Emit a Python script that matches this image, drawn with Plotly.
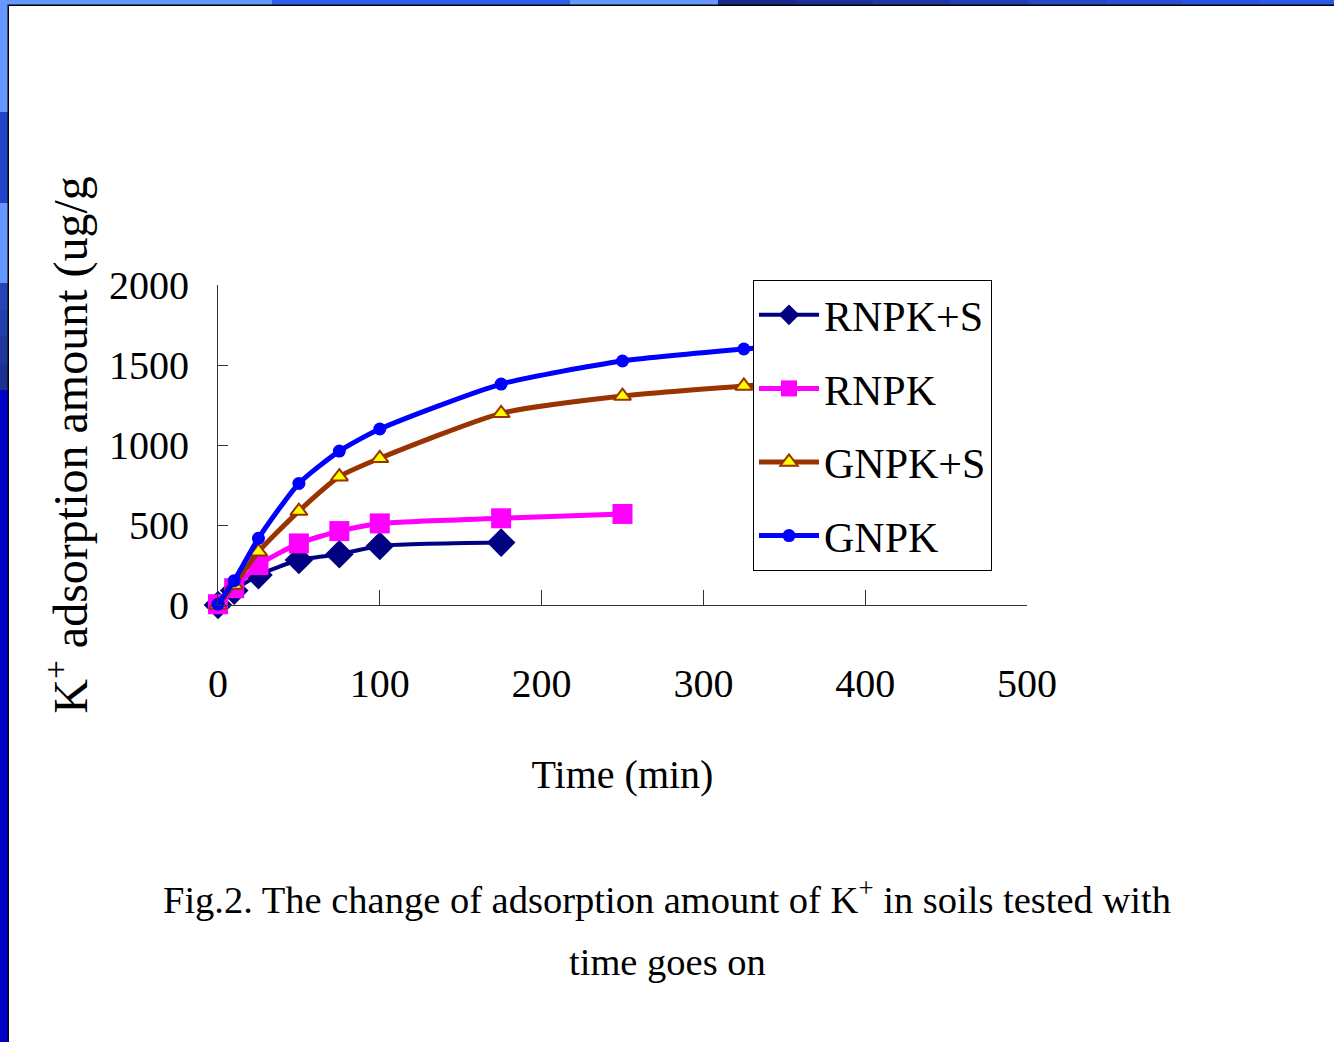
import plotly.graph_objects as go

# ---- data ----
time_rnpk_s = [0, 10, 25, 50, 75, 100, 175]
rnpk_s = [0, 90, 187, 281, 317, 369, 390]

time_rnpk = [0, 10, 25, 50, 75, 100, 175, 250]
rnpk = [5, 105, 250, 385, 462, 510, 542, 569]

time_gnpk_s = [0, 10, 25, 50, 75, 100, 175, 250, 325, 400]
gnpk_s = [0, 125, 333, 587, 802, 917, 1198, 1306, 1369, 1420]

time_gnpk = [0, 10, 25, 50, 75, 100, 175, 250, 325, 400]
gnpk = [5, 152, 417, 760, 962, 1100, 1381, 1525, 1600, 1660]

series_names = ["RNPK+S", "RNPK", "GNPK+S", "GNPK"]
x_ticks = [0, 100, 200, 300, 400, 500]
y_ticks = [0, 500, 1000, 1500, 2000]

FONT = "Liberation Serif, Times New Roman, serif"

# plot-area geometry in pixels
W, H = 1334, 1042
L, R, T, B = 218, 1027, 285, 605
pw, ph = R - L, B - T


def px(xp):
    return (xp - L) / pw


def py(yp):
    return (B - yp) / ph


fig = go.Figure()

styles = [
    dict(color="#000080", width=4, symbol="diamond", msize=22, mfill="#000080", mline="#000080", mlw=0),
    dict(color="#FF00FF", width=5, symbol="square", msize=20, mfill="#FF00FF", mline="#FF00FF", mlw=0),
    dict(color="#993300", width=5, symbol="triangle-up", msize=15, mfill="#FFFF00", mline="#993300", mlw=2),
    dict(color="#0000FF", width=5, symbol="circle", msize=13, mfill="#0000FF", mline="#0000FF", mlw=0),
]
xs = [time_rnpk_s, time_rnpk, time_gnpk_s, time_gnpk]
ys = [rnpk_s, rnpk, gnpk_s, gnpk]

for name, x, y, s in zip(series_names, xs, ys, styles):
    fig.add_trace(go.Scatter(
        x=x, y=y, name=name, mode="lines+markers",
        line=dict(color=s["color"], width=s["width"], shape="spline", smoothing=0.6),
        marker=dict(symbol=s["symbol"], size=s["msize"], color=s["mfill"],
                    line=dict(color=s["mline"], width=s["mlw"])),
        cliponaxis=False,
        legendgroup=name,
    ))

# ---- slide background border ----
shapes = []


def band(x0, x1, y0, y1, color):
    shapes.append(dict(type="rect", xref="paper", yref="paper", layer="below",
                       x0=px(x0), x1=px(x1), y0=py(y1), y1=py(y0),
                       fillcolor=color, line=dict(width=0)))


# white slide body
shapes.append(dict(type="rect", xref="paper", yref="paper", layer="below",
                   x0=px(8), x1=px(W + 5), y0=py(H + 5), y1=py(5),
                   fillcolor="white", line=dict(color="#000000", width=2)))

# top band
band(-2, 272, -2, 4.5, "#6699ff")
band(272, 570, -2, 4.5, "#2f5fe8")
band(570, 718, -2, 4.5, "#6699ff")
top_grad = ["#1a2a8c", "#1c3196", "#1f38a4", "#2240b4", "#2548c4", "#284fd2", "#2a55e0", "#2c5ae8"]
seg = (W + 4 - 718) / len(top_grad)
for i, c in enumerate(top_grad):
    band(718 + i * seg, 718 + (i + 1) * seg + 0.5, -2, 4.5, c)

# left band
band(-2, 7.5, -2, 112, "#6699ff")
band(-2, 7.5, 112, 203, "#2244cc")
band(-2, 7.5, 203, 283, "#6699ff")
left_grad = ["#2446b8", "#2240aa", "#1f389c", "#1c3092"]
seg = (390 - 283) / len(left_grad)
for i, c in enumerate(left_grad):
    band(-2, 7.5, 283 + i * seg, 283 + (i + 1) * seg + 0.5, c)
band(-2, 7.5, 390, H + 2, "#0000cc")

# ---- caption ----
annotations = [
    dict(text="Fig.2. The change of adsorption amount of K<sup>+</sup> in soils tested with",
         xref="paper", yref="paper", x=px(667), y=py(897), xanchor="center", yanchor="middle",
         showarrow=False, font=dict(family=FONT, size=38.5, color="black")),
    dict(text="time goes on",
         xref="paper", yref="paper", x=px(667), y=py(962), xanchor="center", yanchor="middle",
         showarrow=False, font=dict(family=FONT, size=38.5, color="black")),
]

fig.update_layout(
    width=W, height=H,
    margin=dict(l=L, r=W - R, t=T, b=H - B, pad=0),
    paper_bgcolor="#2f56e4",
    plot_bgcolor="rgba(0,0,0,0)",
    font=dict(family=FONT, color="black", size=40),
    shapes=shapes,
    annotations=annotations,
    showlegend=True,
    legend=dict(
        x=px(753), y=py(280), xanchor="left", yanchor="top",
        bgcolor="white", bordercolor="black", borderwidth=1,
        font=dict(family=FONT, size=42, color="black"),
        itemwidth=60, tracegroupgap=16, traceorder="grouped",
    ),
    xaxis=dict(
        range=[0, 500], tickvals=x_ticks, ticktext=[str(v) for v in x_ticks],
        showgrid=False, zeroline=False, showline=True, linecolor="#333333", linewidth=1,
        ticks="inside", ticklen=15, tickcolor="#333333", tickwidth=1,
        ticklabelstandoff=43,
        tickfont=dict(family=FONT, size=40, color="black"),
        title=dict(text="Time (min)", font=dict(family=FONT, size=40, color="black"), standoff=54),
    ),
    yaxis=dict(
        range=[0, 2000], tickvals=y_ticks, ticktext=[str(v) for v in y_ticks],
        showgrid=False, zeroline=False, showline=True, linecolor="#333333", linewidth=1,
        ticks="inside", ticklen=10, tickcolor="#333333", tickwidth=1,
        ticklabelstandoff=20,
        tickfont=dict(family=FONT, size=40, color="black"),
        title=dict(text="K<sup>+</sup> adsorption amount (ug/g",
                   font=dict(family=FONT, size=48, color="black"), standoff=6),
    ),
)

fig.write_html("out.html")
